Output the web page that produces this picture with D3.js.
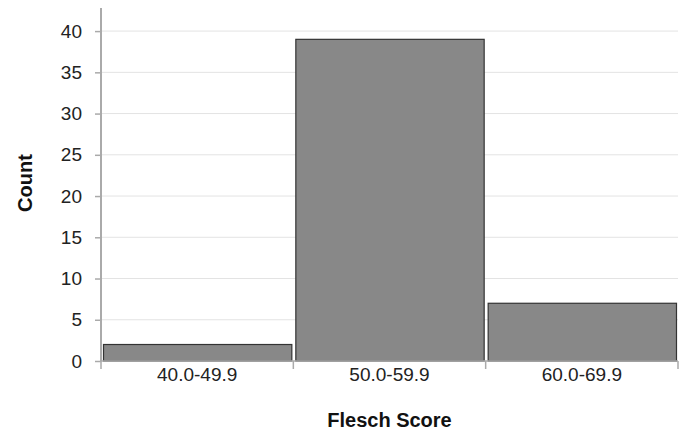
<!DOCTYPE html>
<html><head><meta charset="utf-8">
<script src="https://cdn.jsdelivr.net/npm/d3@7"></script>
<style>body{margin:0;background:#fff}svg{display:block}text{font-family:"Liberation Sans",Arial,sans-serif}</style>
</head><body>
<svg id="c" width="683" height="432"></svg>
<script>
const categories = ["40.0-49.9","50.0-59.9","60.0-69.9"];
const counts = [2, 39, 7];
const yTicks = [0,5,10,15,20,25,30,35,40];

const svg = d3.select("#c");
const m = {left:101, right:5, top:8, bottom:71};
const W = 683, H = 432;
const x = d3.scaleBand().domain(categories).range([m.left, W - m.right]).paddingInner(0).paddingOuter(0);
const y = d3.scaleLinear().domain([0, 42.8]).range([H - m.bottom, m.top]);

// gridlines
svg.append("g").selectAll("line").data(yTicks.filter(d=>d>0)).join("line")
  .attr("x1", m.left).attr("x2", W - m.right)
  .attr("y1", d=>y(d)).attr("y2", d=>y(d))
  .attr("stroke", "#e3e3e3").attr("stroke-width", 1);

// bars
svg.append("g").selectAll("rect").data(counts).join("rect")
  .attr("x", (d,i)=>x(categories[i]) + 2.5)
  .attr("width", x.bandwidth() - 4)
  .attr("y", d=>y(d))
  .attr("height", d=>y(0) - y(d))
  .attr("fill", "#888888").attr("stroke", "#333333").attr("stroke-width", 1.2);

// y axis
const ya = svg.append("g").attr("transform", `translate(${m.left},0)`)
  .call(d3.axisLeft(y).tickValues(yTicks).tickSize(6).tickPadding(13));
ya.select(".domain").attr("d", `M0,${m.top}V${H - m.bottom}`).attr("stroke", "#aaaaaa").attr("stroke-width", 2);
ya.selectAll(".tick line").attr("stroke", "#aaaaaa").attr("stroke-width", 1.5);
ya.selectAll(".tick text").attr("font-size", 19).attr("fill", "#222");

// x axis
const xa = svg.append("g").attr("transform", `translate(0,${y(0)})`)
  .call(d3.axisBottom(x).tickSize(0).tickPadding(7));
xa.select(".domain").attr("d", `M${m.left},0H${W - m.right}`).attr("stroke", "#aaaaaa").attr("stroke-width", 1.5);
xa.selectAll(".tick text").attr("font-size", 19).attr("fill", "#222");
// boundary tick marks between bins
const bounds = categories.map(c=>x(c)).concat([x(categories[categories.length-1]) + x.bandwidth()]);
xa.append("g").selectAll("line").data(bounds).join("line")
  .attr("x1", d=>d).attr("x2", d=>d).attr("y1", 0).attr("y2", 8)
  .attr("stroke", "#aaaaaa").attr("stroke-width", 1.5);

// titles
svg.append("text").attr("x", (m.left + W - m.right)/2).attr("y", 427)
  .attr("text-anchor","middle").attr("font-weight","bold").attr("font-size",20).attr("fill","#111")
  .text("Flesch Score");
svg.append("text").attr("transform", `translate(32,183) rotate(-90)`)
  .attr("text-anchor","middle").attr("font-weight","bold").attr("font-size",20).attr("fill","#111")
  .text("Count");
</script>
</body></html>
